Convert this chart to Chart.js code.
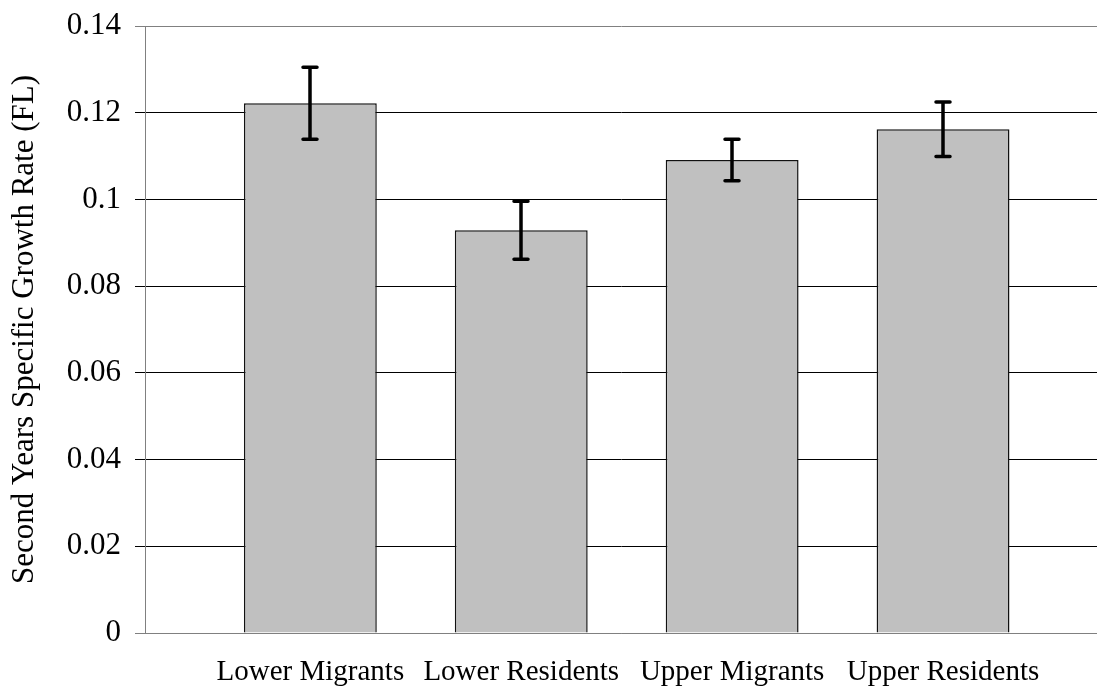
<!DOCTYPE html>
<html>
<head>
<meta charset="utf-8">
<script src="https://cdn.jsdelivr.net/npm/chart.js@4"></script>
<style>
  html, body { margin: 0; padding: 0; background: #fff; }
  #wrap { width: 1097px; height: 687px; position: relative; }
</style>
</head>
<body>
<div id="wrap"><canvas id="growth"></canvas></div>
<script>
// data
var groups = ['Lower Migrants', 'Lower Residents', 'Upper Migrants', 'Upper Residents'];
var growthRate = [0.1222, 0.0929, 0.1091, 0.1162];
var growthErr = [0.0083, 0.0067, 0.0048, 0.0063];

var serif = "'Liberation Serif', 'Times New Roman', serif";
Chart.defaults.font.family = serif;
Chart.defaults.color = '#000';

// whiskers drawn through the chart scales
var errorBars = {
  id: 'errorBars',
  afterDatasetsDraw: function (chart) {
    var c = chart.ctx, x = chart.scales.x, y = chart.scales.y;
    c.save();
    c.strokeStyle = '#000';
    c.lineWidth = 3.5;
    c.lineCap = 'round';
    growthRate.forEach(function (v, i) {
      var px = Math.round(x.getPixelForValue(i));
      var hi = y.getPixelForValue(v + growthErr[i]);
      var lo = y.getPixelForValue(v - growthErr[i]);
      c.beginPath();
      c.moveTo(px, hi); c.lineTo(px, lo);
      c.moveTo(px - 7, hi); c.lineTo(px + 7, hi);
      c.moveTo(px - 7, lo); c.lineTo(px + 7, lo);
      c.stroke();
    });
    c.restore();
  }
};

var ctx = document.getElementById('growth').getContext('2d');
var chart = new Chart(ctx, {
  type: 'bar',
  data: {
    datasets: [{
      data: growthRate.map(function (v, i) { return { x: i, y: v }; }),
      backgroundColor: '#c0c0c0',
      borderColor: '#111',
      borderWidth: 1.5,
      categoryPercentage: 1,
      barPercentage: 0.63
    }]
  },
  options: {
    responsive: true,
    maintainAspectRatio: false,
    animation: false,
    layout: { padding: { top: 26, right: 0, bottom: 0, left: 0 } },
    plugins: { legend: { display: false }, tooltip: { enabled: false } },
    scales: {
      x: {
        type: 'linear',
        offset: false,
        min: -0.784,
        max: 3.73,
        afterBuildTicks: function (axis) {
          axis.ticks = groups.map(function (g, i) { return { value: i }; });
        },
        afterFit: function (s) { s.height = 54; },
        grid: { display: false, drawTicks: false },
        border: { display: true, color: '#808080', width: 1 },
        ticks: {
          autoSkip: false,
          maxRotation: 0,
          padding: 22,
          font: { size: 29 },
          callback: function (v) { return groups[v]; }
        }
      },
      y: {
        min: 0,
        max: 0.14,
        afterFit: function (s) { s.width = 145; s.paddingTop = 0; s.paddingBottom = 0; },
        grid: {
          color: function (c) {
            return (c.tick && (c.tick.value === 0 || c.tick.value >= 0.139)) ? '#808080' : '#000';
          },
          lineWidth: 1,
          tickLength: 10
        },
        border: { display: true, color: '#808080', width: 1 },
        ticks: {
          stepSize: 0.02,
          padding: 14,
          font: { size: 31 },
          callback: function (v) { return String(+v.toFixed(2)); }
        },
        title: {
          display: true,
          text: 'Second Years Specific Growth Rate (FL)',
          font: { size: 31 },
          padding: { top: 6, bottom: 0 }
        }
      }
    }
  },
  plugins: [errorBars]
});
</script>
</body>
</html>
